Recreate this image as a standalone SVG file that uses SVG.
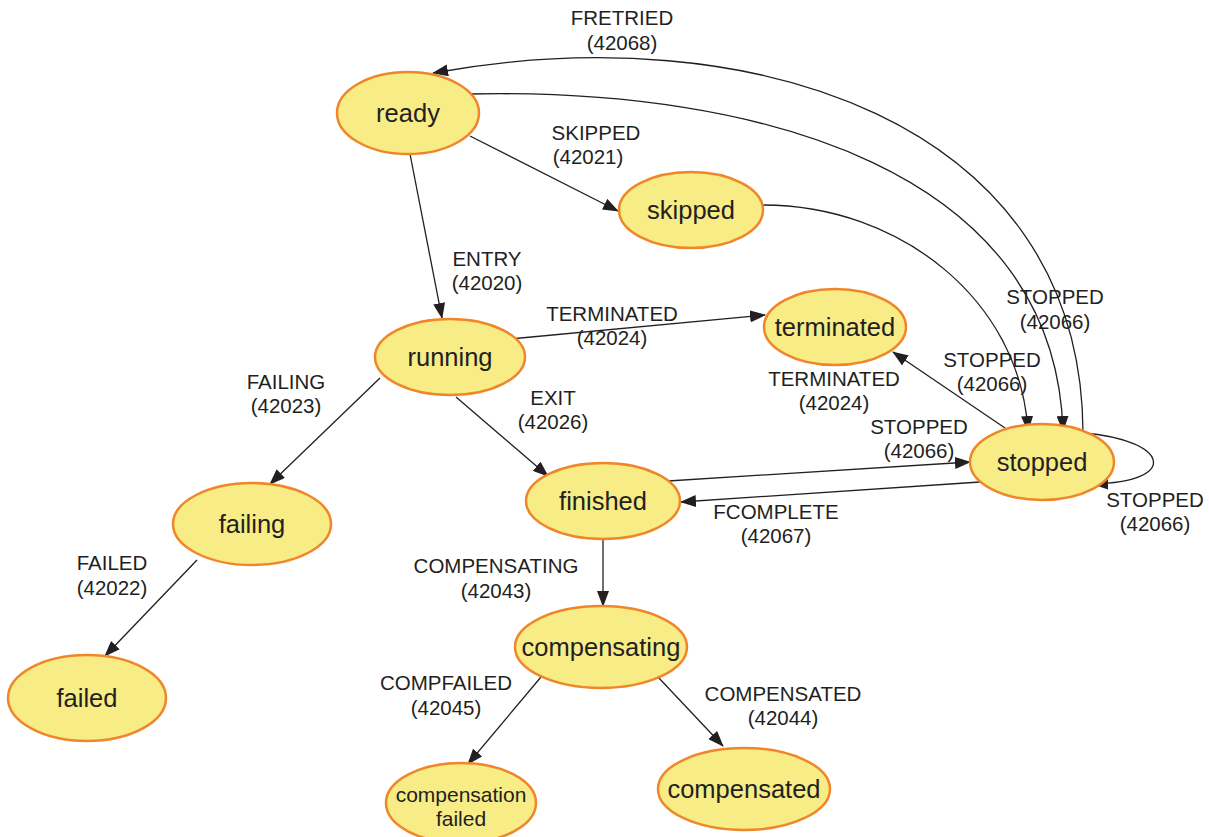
<svg xmlns="http://www.w3.org/2000/svg" width="1209" height="837" viewBox="0 0 1209 837">
<style>
.node ellipse{fill:#F7EC85;stroke:#F0862A;stroke-width:2.5}
.node text{font-family:"Liberation Sans",Arial,sans-serif;font-size:25.5px;fill:#231F20;text-anchor:middle}
.edges path{fill:none;stroke:#231F20;stroke-width:1.3}
.lbl{font-family:"Liberation Sans",Arial,sans-serif;font-size:20.5px;fill:#231F20;text-anchor:middle}
</style>
<defs>
<marker id="ah" markerWidth="16" markerHeight="12" refX="15" refY="6" orient="auto" markerUnits="userSpaceOnUse">
<path d="M0,0 L16,6 L0,12 Z" fill="#231F20"/>
</marker>
</defs>
<rect width="1209" height="837" fill="#FFFFFF"/>
<g id="connectors" class="edges">
<path d="M1083,433 C1082,120 750,15 433,73" marker-end="url(#ah)"/>
<path d="M470,94 C760,88 1055,170 1063,431" marker-end="url(#ah)"/>
<path d="M763,205 C900,205 1020,300 1028,431" marker-end="url(#ah)"/>
<path d="M1083,433 C1170,440 1180,482 1093,484" marker-end="url(#ah)"/>
<path d="M410,154 L442,318" marker-end="url(#ah)"/>
<path d="M470,136 L618,211" marker-end="url(#ah)"/>
<path d="M510,339 L765,315" marker-end="url(#ah)"/>
<path d="M1005,428 L893,352" marker-end="url(#ah)"/>
<path d="M380,378 L270,484" marker-end="url(#ah)"/>
<path d="M456,397 L548,476" marker-end="url(#ah)"/>
<path d="M668,481 L970,462" marker-end="url(#ah)"/>
<path d="M980,482 L681,502" marker-end="url(#ah)"/>
<path d="M197,560 L105,656" marker-end="url(#ah)"/>
<path d="M603,539 L603,606" marker-end="url(#ah)"/>
<path d="M541,677 L468,764" marker-end="url(#ah)"/>
<path d="M658,677 L723,746" marker-end="url(#ah)"/>
</g>
<g id="edge-labels">
<text class="lbl" x="622" y="25">FRETRIED</text><text class="lbl" x="622" y="50">(42068)</text>
<text class="lbl" x="596" y="140">SKIPPED</text><text class="lbl" x="588" y="164">(42021)</text>
<text class="lbl" x="487" y="266">ENTRY</text><text class="lbl" x="487" y="290">(42020)</text>
<text class="lbl" x="612" y="321">TERMINATED</text><text class="lbl" x="612" y="345">(42024)</text>
<text class="lbl" x="1055" y="304">STOPPED</text><text class="lbl" x="1055" y="329">(42066)</text>
<text class="lbl" x="992" y="367">STOPPED</text><text class="lbl" x="992" y="391">(42066)</text>
<text class="lbl" x="834" y="386">TERMINATED</text><text class="lbl" x="834" y="410">(42024)</text>
<text class="lbl" x="286" y="389">FAILING</text><text class="lbl" x="286" y="413">(42023)</text>
<text class="lbl" x="553" y="405">EXIT</text><text class="lbl" x="553" y="429">(42026)</text>
<text class="lbl" x="919" y="434">STOPPED</text><text class="lbl" x="919" y="458">(42066)</text>
<text class="lbl" x="776" y="519">FCOMPLETE</text><text class="lbl" x="776" y="543">(42067)</text>
<text class="lbl" x="1155" y="507">STOPPED</text><text class="lbl" x="1155" y="531">(42066)</text>
<text class="lbl" x="112" y="570">FAILED</text><text class="lbl" x="112" y="595">(42022)</text>
<text class="lbl" x="496" y="573">COMPENSATING</text><text class="lbl" x="496" y="598">(42043)</text>
<text class="lbl" x="446" y="690">COMPFAILED</text><text class="lbl" x="446" y="715">(42045)</text>
<text class="lbl" x="783" y="701">COMPENSATED</text><text class="lbl" x="783" y="725">(42044)</text>
</g>
<g id="ready" class="node"><ellipse cx="408" cy="113" rx="71" ry="41"/><text x="408" y="122">ready</text></g>
<g id="skipped" class="node"><ellipse cx="691" cy="210" rx="72" ry="38"/><text x="691" y="219">skipped</text></g>
<g id="running" class="node"><ellipse cx="450" cy="357" rx="75" ry="38"/><text x="450" y="366">running</text></g>
<g id="terminated" class="node"><ellipse cx="835" cy="327" rx="71" ry="38"/><text x="835" y="336">terminated</text></g>
<g id="stopped" class="node"><ellipse cx="1042" cy="462" rx="72" ry="38"/><text x="1042" y="471">stopped</text></g>
<g id="failing" class="node"><ellipse cx="252" cy="524" rx="79" ry="41"/><text x="252" y="533">failing</text></g>
<g id="finished" class="node"><ellipse cx="603" cy="501" rx="77" ry="38"/><text x="603" y="510">finished</text></g>
<g id="failed" class="node"><ellipse cx="87" cy="698" rx="79" ry="43"/><text x="87" y="707">failed</text></g>
<g id="compensating" class="node"><ellipse cx="601" cy="647" rx="86" ry="41"/><text x="601" y="656">compensating</text></g>
<g id="compensated" class="node"><ellipse cx="744" cy="789" rx="86" ry="41"/><text x="744" y="798">compensated</text></g>
<g id="compensation-failed" class="node"><ellipse cx="461" cy="803" rx="75" ry="40"/><text x="461" y="802" style="font-size:21px">compensation</text><text x="461" y="826" style="font-size:21px">failed</text></g>
</svg>
